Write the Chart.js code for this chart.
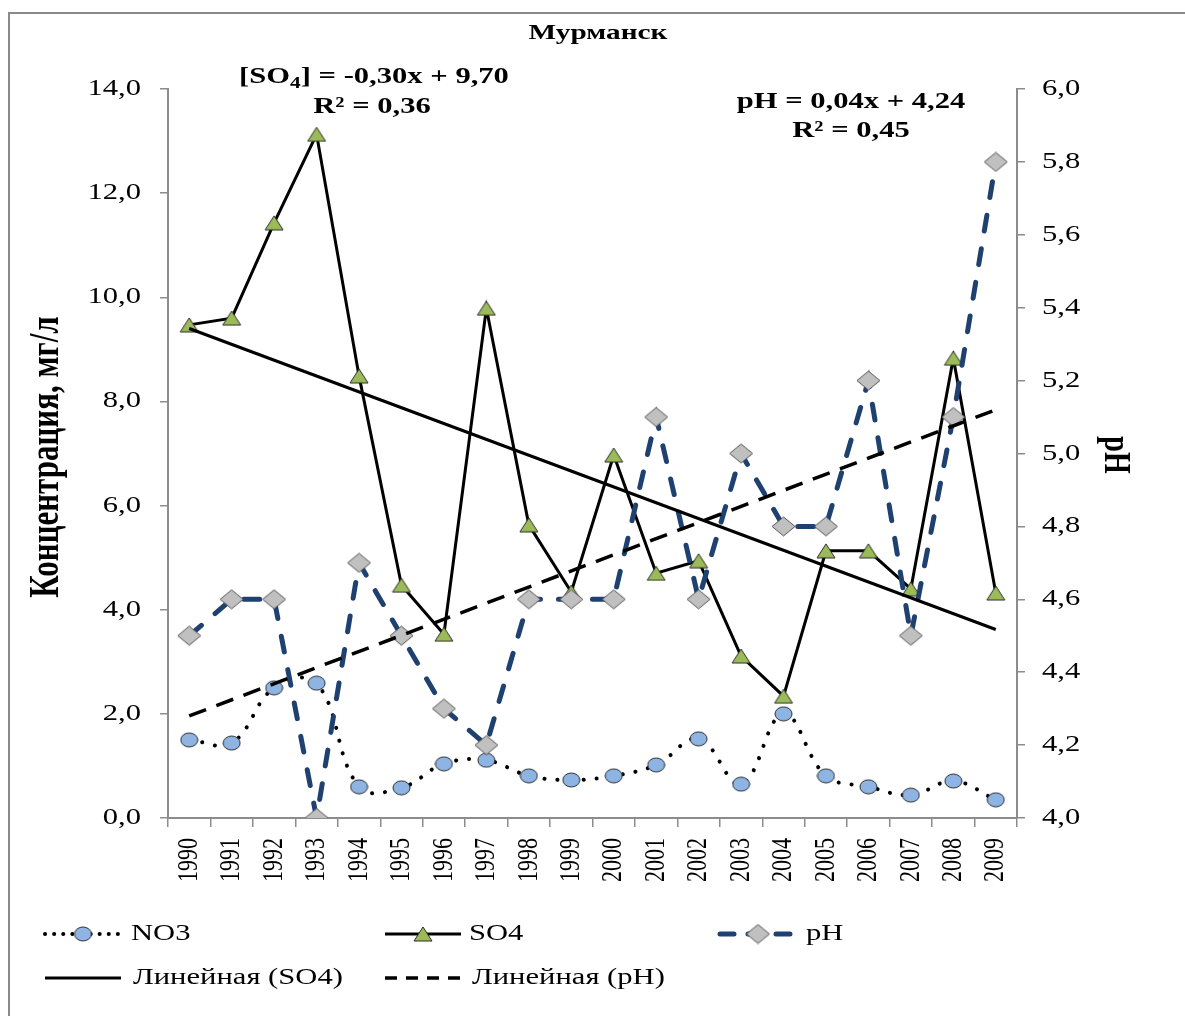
<!DOCTYPE html>
<html lang="ru">
<head>
<meta charset="utf-8">
<title>Мурманск</title>
<script src="https://cdn.jsdelivr.net/npm/chart.js@4.4.1/dist/chart.umd.min.js"></script>
<style>
    html, body { margin: 0; padding: 0; background: #ffffff; }
    #wrap { position: relative; width: 1185px; height: 1016px; }
</style>
</head>
<body>
<div id="wrap"><canvas id="chart" width="1185" height="1016"></canvas></div>
<script>
// ============================================================================
// Мурманск: NO3, SO4 (мг/л) and pH by year, with linear trends
// ============================================================================

var years = ['1990', '1991', '1992', '1993', '1994', '1995', '1996', '1997', '1998', '1999',
             '2000', '2001', '2002', '2003', '2004', '2005', '2006', '2007', '2008', '2009'];

var no3Values = [1.50, 1.44, 2.50, 2.59, 0.60, 0.58, 1.04, 1.11, 0.81, 0.73,
                 0.81, 1.02, 1.52, 0.65, 2.00, 0.81, 0.60, 0.44, 0.71, 0.35];

var so4Values = [9.47, 9.60, 11.43, 13.13, 8.49, 4.47, 3.53, 9.79, 5.63, 4.34,
                 6.97, 4.70, 4.94, 3.11, 2.34, 5.13, 5.13, 4.40, 8.83, 4.32];

var phValues = [4.5, 4.6, 4.6, 4.0, 4.7, 4.5, 4.3, 4.2, 4.6, 4.6,
                4.6, 5.1, 4.6, 5.0, 4.8, 4.8, 5.2, 4.5, 5.1, 5.8];

// trend line end points
var so4TrendEnds = [9.40, 3.62];
var phTrendEnds = [4.28, 5.12];

var leftTicks = [0, 2, 4, 6, 8, 10, 12, 14];
var rightTicks = [4.0, 4.2, 4.4, 4.6, 4.8, 5.0, 5.2, 5.4, 5.6, 5.8, 6.0];

var seriesNames = ['NO3', 'SO4', 'pH', 'Линейная (SO4)', 'Линейная (pH)'];

(function() {
    'use strict';

    var SERIF = '"Liberation Serif", "Times New Roman", serif';
    var AXIS_GREY = '#8c8c8c';
    var PH_BLUE = '#1f4170';
    // the source picture is widened, so all text is drawn a bit stretched
    var SX = 1.33;

    function comma(v) {
        return Number(v).toFixed(1).replace('.', ',');
    }

    function trendPoints(ends) {
        return [
            { x: years[0], y: ends[0] },
            { x: years[years.length - 1], y: ends[1] }
        ];
    }

    // Marker images (wider than tall, like the source)
    function makeMarker(w, h, fill, stroke, shape) {
        var c = document.createElement('canvas');
        c.width = w + 2;
        c.height = h + 2;
        var g = c.getContext('2d');
        var cx = c.width / 2, cy = c.height / 2;
        g.beginPath();
        if (shape === 'ellipse') {
            g.ellipse(cx, cy, w / 2, h / 2, 0, 0, Math.PI * 2);
        } else if (shape === 'diamond') {
            g.moveTo(cx, cy - h / 2);
            g.lineTo(cx + w / 2, cy);
            g.lineTo(cx, cy + h / 2);
            g.lineTo(cx - w / 2, cy);
            g.closePath();
        } else {
            g.moveTo(cx, cy - h / 2);
            g.lineTo(cx + w / 2, cy + h / 2);
            g.lineTo(cx - w / 2, cy + h / 2);
            g.closePath();
        }
        g.fillStyle = fill;
        g.fill();
        g.strokeStyle = stroke;
        g.lineWidth = 1;
        g.stroke();
        return c;
    }

    var circleImg = makeMarker(17, 14, '#8db4e2', '#2b2b2b', 'ellipse');
    var triangleImg = makeMarker(18, 14, '#9bbb59', '#2b2b2b', 'triangle');
    var diamondImg = makeMarker(23, 19, '#c0c0c0', '#555555', 'diamond');

    function stretchText(ctx, text, x, y, align, rotate) {
        ctx.save();
        ctx.translate(x, y);
        if (rotate) {
            ctx.rotate(rotate);
            ctx.scale(1, SX);
        } else {
            ctx.scale(SX, 1);
        }
        ctx.textAlign = align;
        ctx.fillText(text, 0, 0);
        ctx.restore();
    }

    function stretchedWidth(ctx, text) {
        return ctx.measureText(text).width * SX;
    }

    // Frame, title, tick labels, equations, axis titles and the legend
    var decorPlugin = {
        id: 'decor',
        beforeDraw: function(chart) {
            var ctx = chart.ctx;
            ctx.save();
            ctx.fillStyle = '#ffffff';
            ctx.fillRect(0, 0, chart.width, chart.height);
            ctx.strokeStyle = '#8a8a8a';
            ctx.lineWidth = 2;
            ctx.beginPath();
            ctx.moveTo(9, chart.height);
            ctx.lineTo(9, 13);
            ctx.lineTo(chart.width, 13);
            ctx.stroke();
            ctx.restore();
        },
        afterDraw: function(chart) {
            var ctx = chart.ctx;
            ctx.save();
            ctx.fillStyle = '#000000';
            ctx.textBaseline = 'middle';

            drawTickLabels(chart, ctx);

            // chart title
            ctx.font = 'bold 22px ' + SERIF;
            stretchText(ctx, 'Мурманск', 598, 33, 'center');

            // SO4 trend equation with subscript
            var mainFont = 'bold 23px ' + SERIF;
            var subFont = 'bold 16px ' + SERIF;
            var p1 = '[SO', p2 = '4', p3 = '] = -0,30x + 9,70';
            ctx.font = mainFont;
            var w1 = stretchedWidth(ctx, p1);
            var w3 = stretchedWidth(ctx, p3);
            ctx.font = subFont;
            var w2 = stretchedWidth(ctx, p2);
            var x0 = 374 - (w1 + w2 + w3) / 2;
            ctx.font = mainFont;
            stretchText(ctx, p1, x0, 77, 'left');
            ctx.font = subFont;
            stretchText(ctx, p2, x0 + w1, 84, 'left');
            ctx.font = mainFont;
            stretchText(ctx, p3, x0 + w1 + w2, 77, 'left');
            stretchText(ctx, 'R² = 0,36', 372, 107, 'center');

            // pH trend equation
            stretchText(ctx, 'pH = 0,04x + 4,24', 851, 102, 'center');
            stretchText(ctx, 'R² = 0,45', 851, 131, 'center');

            // axis titles
            ctx.font = 'bold 31px ' + SERIF;
            stretchText(ctx, 'Концентрация, мг/л', 47, 457, 'center', -Math.PI / 2);
            ctx.font = 'bold 28px ' + SERIF;
            stretchText(ctx, 'pH', 1115, 455, 'center', Math.PI / 2);

            drawLegend(chart, ctx);
            ctx.restore();
        }
    };

    function drawTickLabels(chart, ctx) {
        var sx = chart.scales.x, sy = chart.scales.y, sy2 = chart.scales.y2;
        ctx.font = '23px ' + SERIF;
        leftTicks.forEach(function(v) {
            stretchText(ctx, comma(v), 141, sy.getPixelForValue(v), 'right');
        });
        rightTicks.forEach(function(v) {
            stretchText(ctx, comma(v), 1042, sy2.getPixelForValue(v), 'left');
        });
        ctx.font = '22px ' + SERIF;
        years.forEach(function(label, i) {
            stretchText(ctx, label, sx.getPixelForValue(i), 838, 'right', -Math.PI / 2);
        });
    }

    function drawLegend(chart, ctx) {
        // sample start and text start of each entry
        var slots = [
            { x: 45, y: 934, textX: 131 },
            { x: 385, y: 934, textX: 469 },
            { x: 720, y: 934, textX: 806 },
            { x: 45, y: 978, textX: 133 },
            { x: 385, y: 978, textX: 472 }
        ];
        var sampleLen = 76;

        chart.data.datasets.forEach(function(ds, i) {
            var s = slots[i];
            ctx.save();
            ctx.strokeStyle = ds.borderColor;
            ctx.lineWidth = ds.borderWidth;
            ctx.lineCap = ds.borderCapStyle || 'butt';
            ctx.setLineDash(ds.legendDash || ds.borderDash || []);
            ctx.beginPath();
            ctx.moveTo(s.x, s.y);
            ctx.lineTo(s.x + sampleLen, s.y);
            ctx.stroke();
            ctx.restore();

            if (ds.pointRadius > 0) {
                var img = ds.pointStyle;
                ctx.drawImage(img, s.x + sampleLen / 2 - img.width / 2, s.y - img.height / 2);
            }

            ctx.fillStyle = '#000000';
            ctx.font = '23px ' + SERIF;
            stretchText(ctx, seriesNames[i], s.textX, s.y, 'left');
        });
    }

    function buildChart() {
        var ctx = document.getElementById('chart');
        return new Chart(ctx, {
            type: 'line',
            data: {
                labels: years,
                datasets: [
                    {
                        label: seriesNames[0],
                        data: no3Values,
                        yAxisID: 'y',
                        order: 4,
                        borderColor: '#000000',
                        borderWidth: 4,
                        borderDash: [0.1, 13],
                        legendDash: [0.1, 9],
                        borderCapStyle: 'round',
                        tension: 0.4,
                        pointStyle: circleImg,
                        pointRadius: 8
                    },
                    {
                        label: seriesNames[1],
                        data: so4Values,
                        yAxisID: 'y',
                        order: 3,
                        borderColor: '#000000',
                        borderWidth: 3,
                        tension: 0,
                        pointStyle: triangleImg,
                        pointRadius: 9
                    },
                    {
                        label: seriesNames[2],
                        data: phValues,
                        yAxisID: 'y2',
                        order: 2,
                        borderColor: PH_BLUE,
                        borderWidth: 5,
                        borderDash: [16, 18],
                        legendDash: [14, 14],
                        borderCapStyle: 'round',
                        tension: 0,
                        pointStyle: diamondImg,
                        pointRadius: 11
                    },
                    {
                        label: seriesNames[3],
                        data: trendPoints(so4TrendEnds),
                        yAxisID: 'y',
                        order: 1,
                        borderColor: '#000000',
                        borderWidth: 3,
                        pointRadius: 0
                    },
                    {
                        label: seriesNames[4],
                        data: trendPoints(phTrendEnds),
                        yAxisID: 'y2',
                        order: 0,
                        borderColor: '#000000',
                        borderWidth: 3.5,
                        borderDash: [18, 11],
                        legendDash: [12, 9],
                        pointRadius: 0
                    }
                ]
            },
            options: {
                responsive: false,
                animation: false,
                layout: { padding: { top: 89, right: 0, bottom: 0, left: 0 } },
                plugins: {
                    legend: { display: false },
                    title: { display: false },
                    tooltip: { enabled: false }
                },
                scales: {
                    x: {
                        type: 'category',
                        offset: true,
                        afterFit: function(scale) { scale.height = 198; },
                        border: { color: AXIS_GREY, width: 2 },
                        grid: {
                            offset: true,
                            drawOnChartArea: false,
                            drawTicks: true,
                            tickLength: 9,
                            color: AXIS_GREY,
                            lineWidth: 1.5
                        },
                        ticks: { display: false, autoSkip: false }
                    },
                    y: {
                        position: 'left',
                        min: 0,
                        max: 14,
                        afterFit: function(scale) { scale.width = 168; },
                        afterBuildTicks: function(scale) {
                            scale.ticks = leftTicks.map(function(v) { return { value: v }; });
                        },
                        border: { color: AXIS_GREY, width: 2 },
                        grid: {
                            drawOnChartArea: false,
                            tickLength: 8,
                            color: AXIS_GREY,
                            lineWidth: 1.5
                        },
                        ticks: { display: false }
                    },
                    y2: {
                        position: 'right',
                        min: 4,
                        max: 6,
                        afterFit: function(scale) { scale.width = 168; },
                        afterBuildTicks: function(scale) {
                            scale.ticks = rightTicks.map(function(v) { return { value: v }; });
                        },
                        border: { color: AXIS_GREY, width: 2 },
                        grid: {
                            drawOnChartArea: false,
                            tickLength: 8,
                            color: AXIS_GREY,
                            lineWidth: 1.5
                        },
                        ticks: { display: false }
                    }
                }
            },
            plugins: [decorPlugin]
        });
    }

    document.addEventListener('DOMContentLoaded', function() {
        window.murmanskChart = buildChart();
    });
})();
</script>
</body>
</html>
